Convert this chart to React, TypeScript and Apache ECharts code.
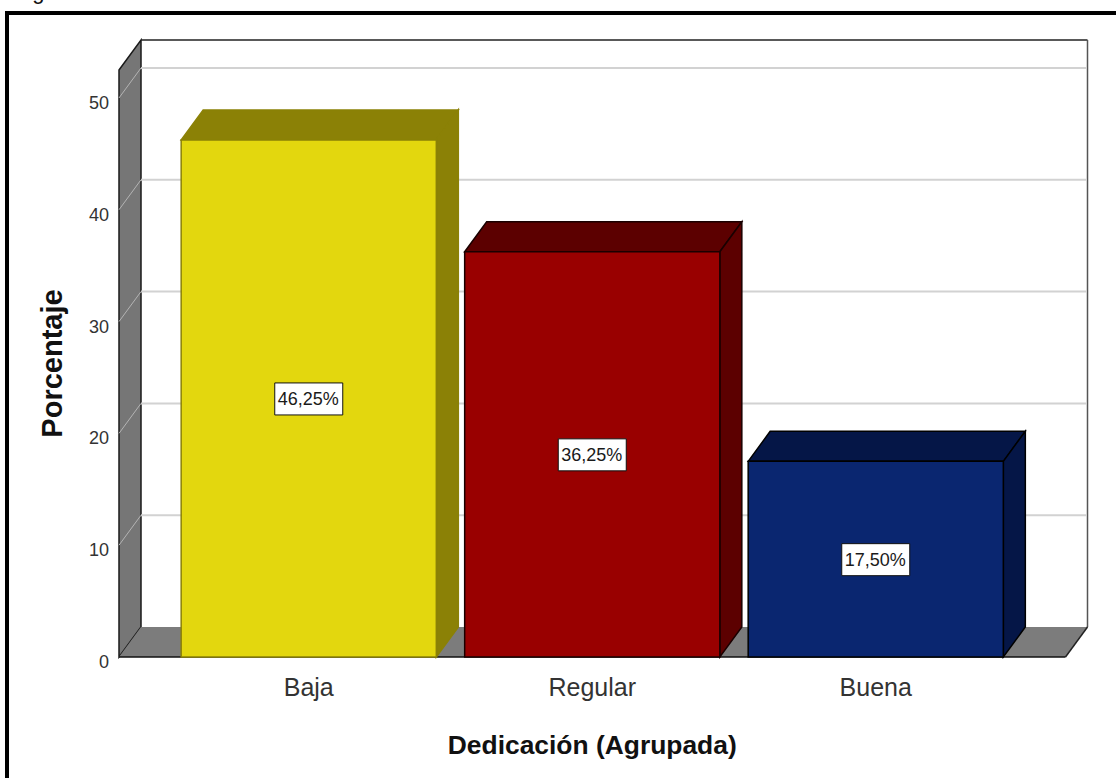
import React, { useEffect, useRef } from "react";
import * as echarts from "echarts";

const categories = ["Baja", "Regular", "Buena"];
const percentages = [46.25, 36.25, 17.5];
const valueLabels = ["46,25%", "36,25%", "17,50%"];
const tickValues = [0, 10, 20, 30, 40, 50];
const frontColors = ["#e3d70e", "#990000", "#0a2670"];
const shadeColors = ["#8b8106", "#5c0000", "#051647"];
const edgeColors = ["#8b8106", "#1a0000", "#000000"];

const FONT = '"Liberation Sans", Arial, sans-serif';
const DEPTH_X = 22;
const DEPTH_Y = 30;
const SIDE_GAP = 48;
const WALL_GREY = "#767676";
const FLOOR_GREY = "#7c7c7c";

// Open box behind the bars: back wall, left wall and floor
function renderChamber(params: any) {
  const c = params.coordSys;
  const l = c.x - SIDE_GAP;
  const r = c.x + c.width + SIDE_GAP;
  const t = c.y;
  const b = c.y + c.height;
  const ln = (x1: number, y1: number, x2: number, y2: number, stroke: string, lineWidth: number) => ({
    type: "line",
    shape: { x1, y1, x2, y2 },
    style: { stroke, lineWidth },
  });
  return {
    type: "group",
    children: [
      {
        type: "polygon",
        shape: { points: [[l, t], [l + DEPTH_X, t - DEPTH_Y], [l + DEPTH_X, b - DEPTH_Y], [l, b]] },
        style: { fill: WALL_GREY, stroke: "#1a1a1a", lineWidth: 1.5 },
      },
      {
        type: "polygon",
        shape: { points: [[l, b], [l + DEPTH_X, b - DEPTH_Y], [r + DEPTH_X, b - DEPTH_Y], [r, b]] },
        style: { fill: FLOOR_GREY },
      },
      ln(l + DEPTH_X, t - DEPTH_Y, r + DEPTH_X, t - DEPTH_Y, "#222222", 1.5),
      ln(r + DEPTH_X, t - DEPTH_Y, r + DEPTH_X, b - DEPTH_Y, "#555555", 1.5),
      ln(r + DEPTH_X, b - DEPTH_Y, r, b, "#222222", 1.5),
      ln(l, b, r, b, "#111111", 1.5),
    ],
  };
}

// One gridline per tick: across the back wall and down the left wall
function renderGridline(params: any, api: any) {
  const c = params.coordSys;
  const l = c.x - SIDE_GAP;
  const r = c.x + c.width + SIDE_GAP;
  const y = api.coord([0, api.value(0)])[1];
  return {
    type: "group",
    children: [
      {
        type: "line",
        shape: { x1: l + DEPTH_X, y1: y - DEPTH_Y, x2: r + DEPTH_X - 1, y2: y - DEPTH_Y },
        style: { stroke: "#d2d2d2", lineWidth: 2 },
      },
      {
        type: "line",
        shape: { x1: l, y1: y, x2: l + DEPTH_X, y2: y - DEPTH_Y },
        style: { stroke: "#b4b4b4", lineWidth: 1 },
      },
    ],
  };
}

// Extruded bar: front face, top and right side, with its boxed value label
function renderBar(_params: any, api: any) {
  const i = api.value(0);
  const v = api.value(1);
  const [cx, top] = api.coord([i, v]);
  const bottom = api.coord([i, 0])[1];
  const w = api.size([1, 0])[0] * 0.9;
  const x0 = cx - w / 2;
  const x1 = cx + w / 2;
  const midY = (top + bottom) / 2;
  const edge = { stroke: edgeColors[i], lineWidth: 1.5 };
  return {
    type: "group",
    children: [
      {
        type: "polygon",
        shape: { points: [[x0, top], [x0 + DEPTH_X, top - DEPTH_Y], [x1 + DEPTH_X, top - DEPTH_Y], [x1, top]] },
        style: { fill: shadeColors[i], ...edge },
      },
      {
        type: "polygon",
        shape: { points: [[x1, top], [x1 + DEPTH_X, top - DEPTH_Y], [x1 + DEPTH_X, bottom - DEPTH_Y], [x1, bottom]] },
        style: { fill: shadeColors[i], ...edge },
      },
      {
        type: "rect",
        shape: { x: x0, y: top, width: w, height: bottom - top },
        style: { fill: frontColors[i], ...edge },
      },
      {
        type: "rect",
        shape: { x: cx - 34, y: midY - 15.5, width: 68, height: 32 },
        style: { fill: "#ffffff", stroke: "#111111", lineWidth: 1 },
      },
      {
        type: "text",
        style: {
          x: cx - 0.5,
          y: midY + 1,
          text: valueLabels[i],
          fill: "#1a1a1a",
          font: `18px ${FONT}`,
          align: "center",
          verticalAlign: "middle",
        },
      },
    ],
  };
}

export default function App() {
  const ref = useRef<HTMLDivElement>(null);

  useEffect(() => {
    document.body.style.margin = "0";
    const chart = echarts.init(ref.current!, undefined, { renderer: "svg" });
    chart.setOption({
      animation: false,
      backgroundColor: "#ffffff",
      grid: { left: 167, width: 850.5, top: 70, height: 587, containLabel: false },
      xAxis: {
        type: "category",
        data: categories,
        name: "Dedicación (Agrupada)",
        nameLocation: "middle",
        nameGap: 75,
        nameTextStyle: { fontFamily: FONT, fontSize: 26.4, fontWeight: "bold", color: "#111111" },
        axisLine: { show: false },
        axisTick: { show: false },
        axisLabel: { fontFamily: FONT, fontSize: 25, color: "#333333", margin: 17 },
      },
      yAxis: {
        type: "value",
        min: 0,
        max: 52.5,
        offset: 48,
        name: "Porcentaje",
        nameLocation: "middle",
        nameGap: 53,
        nameTextStyle: { fontFamily: FONT, fontSize: 29, fontWeight: "bold", color: "#111111" },
        axisLine: { show: false },
        axisTick: { show: false },
        splitLine: { show: false },
        axisLabel: {
          customValues: tickValues,
          fontFamily: FONT,
          fontSize: 18,
          color: "#333333",
          margin: 10,
          verticalAlign: "top",
          lineHeight: 10,
        },
      },
      graphic: [
        { type: "line", shape: { x1: 7, y1: 11, x2: 7, y2: 778 }, style: { stroke: "#000000", lineWidth: 4 } },
        { type: "line", shape: { x1: 5, y1: 13, x2: 1116, y2: 13 }, style: { stroke: "#000000", lineWidth: 4 } },
        {
          type: "text",
          style: { x: 14, y: 2, text: "Figura", fill: "#111111", font: `22px ${FONT}`, verticalAlign: "bottom" },
        },
      ],
      series: [
        { type: "custom", data: [0], renderItem: renderChamber, silent: true, z: 1 },
        {
          type: "custom",
          data: tickValues.filter((t) => t > 0).map((t) => [t]),
          encode: { y: 0 },
          renderItem: renderGridline,
          silent: true,
          z: 2,
        },
        {
          type: "custom",
          data: percentages.map((p, i) => [i, p]),
          encode: { x: 0, y: 1 },
          renderItem: renderBar,
          silent: true,
          z: 3,
        },
      ],
    });
    return () => chart.dispose();
  }, []);

  return <div ref={ref} style={{ position: "absolute", left: 0, top: 0, width: 1116, height: 778 }} />;
}
